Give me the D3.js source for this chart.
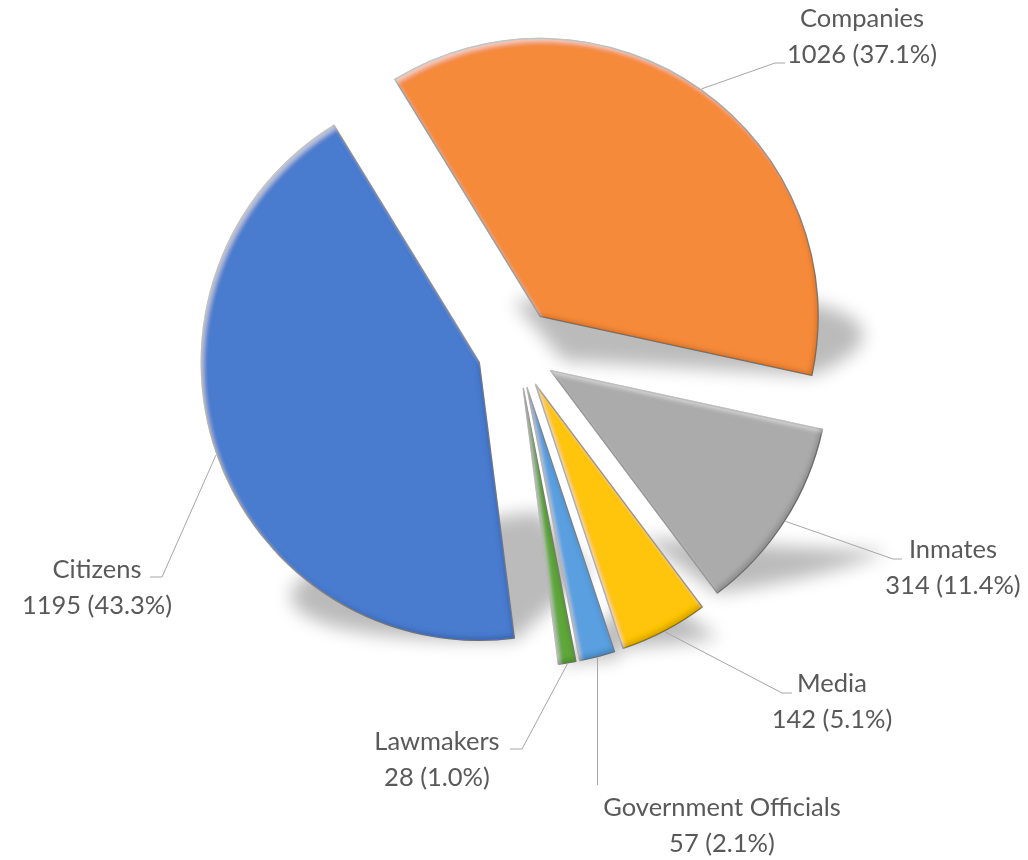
<!DOCTYPE html>
<html>
<head>
<meta charset="utf-8">
<script src="https://cdn.jsdelivr.net/npm/d3@7"></script>
<style>
  html, body { margin: 0; padding: 0; background: #ffffff; }
  svg { display: block; }
  .label { font-family: Lato, "Open Sans", sans-serif; font-size: 25.5px; fill: #595959; }
  .leader { fill: none; stroke: #a6a6a6; stroke-width: 1; }
</style>
</head>
<body>
<script>
// Who filed the cases: count per group
const categories = ["Companies", "Inmates", "Media", "Government Officials", "Lawmakers", "Citizens"];
const values = [1026, 314, 142, 57, 28, 1195];
const colors = ["#f68a3b", "#ababab", "#ffc50c", "#5a9fdf", "#5ea63b", "#4a7bcf"];

// Label placement: text centre x, first baseline, leader elbow and leader end
const labelX = [862, 953, 832, 722, 437, 97];
const labelY = [27, 558, 692, 816, 750, 578];
const elbowX = [775, 893, 782, null, 522, 162];
const elbowY = [63, 559, 693, 785, 749, 577];
const endX = [785, 902, 792, null, 510, 150];

const W = 1028, H = 860;
const cx = 517, cy = 349;   // pie centre
const R = 278;              // pie radius
const E = 40;               // distance each slice is pulled out
const start = -31.5 * Math.PI / 180;

const svg = d3.select("body").append("svg").attr("width", W).attr("height", H);
const defs = svg.append("defs");

// soft bevel: light band on upper-left edges, dark band on lower-right edges
const bevel = defs.append("filter").attr("id", "bevel")
  .attr("x", "-5%").attr("y", "-5%").attr("width", "110%").attr("height", "110%");
bevel.append("feGaussianBlur").attr("in", "SourceAlpha").attr("stdDeviation", 2.2).attr("result", "b");
bevel.append("feOffset").attr("in", "b").attr("dx", 3).attr("dy", 4).attr("result", "bo1");
bevel.append("feComposite").attr("in", "SourceAlpha").attr("in2", "bo1").attr("operator", "out").attr("result", "hiBand");
bevel.append("feFlood").attr("flood-color", "#ffffff").attr("flood-opacity", 0.45).attr("result", "white");
bevel.append("feComposite").attr("in", "white").attr("in2", "hiBand").attr("operator", "in").attr("result", "hi");
bevel.append("feOffset").attr("in", "b").attr("dx", -3).attr("dy", -4).attr("result", "bo2");
bevel.append("feComposite").attr("in", "SourceAlpha").attr("in2", "bo2").attr("operator", "out").attr("result", "shBand");
bevel.append("feFlood").attr("flood-color", "#000000").attr("flood-opacity", 0.3).attr("result", "black");
bevel.append("feComposite").attr("in", "black").attr("in2", "shBand").attr("operator", "in").attr("result", "sh");
const merge = bevel.append("feMerge");
merge.append("feMergeNode").attr("in", "SourceGraphic");
merge.append("feMergeNode").attr("in", "hi");
merge.append("feMergeNode").attr("in", "sh");

const blur = defs.append("filter").attr("id", "shadowBlur")
  .attr("x", "-20%").attr("y", "-20%").attr("width", "140%").attr("height", "140%");
blur.append("feGaussianBlur").attr("stdDeviation", 9);

const total = d3.sum(values);
const pie = d3.pie().sort(null).value(d => d)
  .startAngle(start).endAngle(start + 2 * Math.PI);
const arcs = pie(values);
const arcGen = d3.arc().innerRadius(0).outerRadius(R);

const mid = d => (d.startAngle + d.endAngle) / 2;
const offset = d => [cx + E * Math.sin(mid(d)), cy - E * Math.cos(mid(d))];

// perspective shadows, flattened towards the bottom of each slice and leaning right
const shadowLayer = svg.append("g").attr("filter", "url(#shadowBlur)").attr("opacity", 0.27);
// slices
const sliceLayer = svg.append("g");

arcs.forEach((d, i) => {
  const [ox, oy] = offset(d);
  const p = sliceLayer.append("path")
    .attr("d", arcGen(d))
    .attr("transform", `translate(${ox},${oy})`)
    .attr("fill", colors[i])
    .attr("stroke", "#7f7f7f")
    .attr("stroke-width", 1.3)
    .attr("stroke-linejoin", "round")
    .attr("filter", "url(#bevel)");
  const bb = p.node().getBBox();
  const yb = bb.y + bb.height;
  shadowLayer.append("path")
    .attr("d", arcGen(d))
    .attr("fill", "#000")
    .attr("transform", `translate(${ox},${oy}) translate(0,${yb}) matrix(1,0,-0.4,0.25,0,0) translate(0,${-yb})`);
});
sliceLayer.raise();

// leader lines and labels
const labelLayer = svg.append("g");
arcs.forEach((d, i) => {
  const [ox, oy] = offset(d);
  const a = mid(d);
  const sx = ox + (R + 1) * Math.sin(a), sy = oy - (R + 1) * Math.cos(a);
  let pts;
  if (elbowX[i] === null) {
    pts = [[sx, sy], [sx, elbowY[i]]];
  } else {
    pts = [[sx, sy], [elbowX[i], elbowY[i]], [endX[i], elbowY[i]]];
  }
  labelLayer.append("path").attr("class", "leader").attr("d", d3.line()(pts));

  const pct = (values[i] / total * 100).toFixed(1);
  const t = labelLayer.append("text").attr("class", "label").attr("text-anchor", "middle");
  t.append("tspan").attr("x", labelX[i]).attr("y", labelY[i]).text(categories[i]);
  t.append("tspan").attr("x", labelX[i]).attr("dy", 35.5).text(`${values[i]} (${pct}%)`);
});
</script>
</body>
</html>
